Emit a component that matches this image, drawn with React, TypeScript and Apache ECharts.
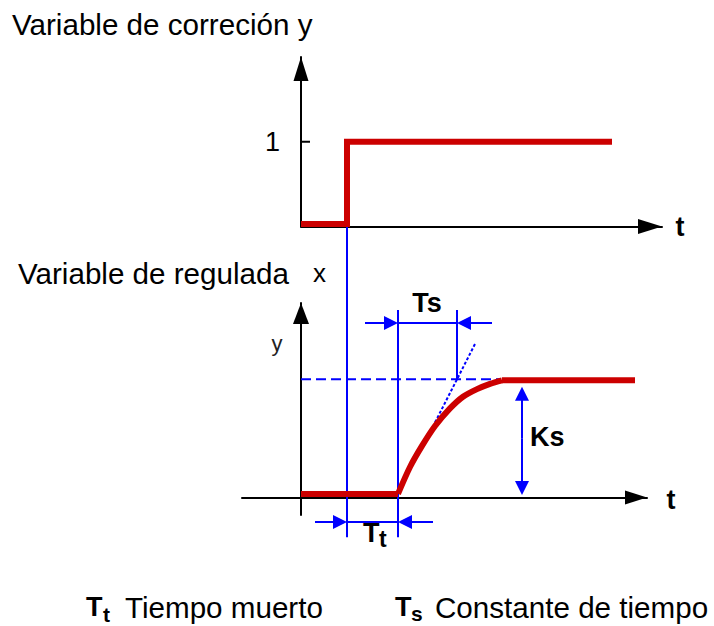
import React, { useEffect, useRef } from 'react';
import * as echarts from 'echarts';

// ---- data (time in units of 0.1 s, amplitude normalised) ----
const stepTime = 4.6;
const deadTimeEnd = 9.7;
const timeConstantEnd = 15.6;
const ksArrowX = 22.1;

const inputStep: number[][] = [[0, 0.03], [4.6, 0.03], [4.6, 1], [31.1, 1]];
const unitTick: number[][] = [[-0.4, 1], [0.9, 1]];

const responseBaseline: number[][] = [[0, 0.03], [9.7, 0.03]];
const responseRise: number[][] = [
  [9.7, 0.03], [10.9, 0.26], [12.1, 0.44], [13.4, 0.61], [14.9, 0.76],
  [16.2, 0.86], [17.6, 0.925], [18.9, 0.97], [20.1, 1.0],
];
const responseFlat: number[][] = [[20.1, 1.0], [33.4, 1.0]];
const tangentLine: number[][] = [[13.4, 0.64], [17.4, 1.31]];
const ksLevelLine: number[][] = [[0, 1.01], [20, 1.01]];

const stepGuide: number[][] = [[stepTime, -0.34], [stepTime, 2.31]];
const deadGuide: number[][] = [[deadTimeEnd, -0.34], [deadTimeEnd, 1.6]];
const tsGuide: number[][] = [[timeConstantEnd, 1.01], [timeConstantEnd, 1.6]];

const tsDimY = 1.49;
const tsDimFrom = [6.4, 19.1];
const ttDimY = -0.21;
const ttDimFrom = [1.4, 13.2];
const ksTips = [0.945, 0.02];
const ksMid = 0.5;

// ---- scales ----
const SX = 10; // px per x unit
const SY1 = 117.13; // px per y unit (bottom grid)
const ARROW = 14;
const BLUE = '#0000ff';
const RED = '#cc0000';
const FONT = "'Liberation Sans', Arial, sans-serif";

function arrowEnd(from: number[], tip: number[], sx: number, sy: number, size: number) {
  const dx = (tip[0] - from[0]) * sx;
  const dy = (tip[1] - from[1]) * sy;
  const len = Math.hypot(dx, dy);
  const k = size / 2 / len;
  return [tip[0] - (tip[0] - from[0]) * k, tip[1] - (tip[1] - from[1]) * k];
}

function seg(from: number[], tip: number[]) {
  return { coords: [from, arrowEnd(from, tip, SX, SY1, ARROW)] };
}

const lineBase = (xi: number, data: number[][], color: string, width: number, extra: any = {}) => ({
  type: 'line',
  xAxisIndex: xi,
  yAxisIndex: xi,
  data,
  symbol: 'none',
  showSymbol: false,
  clip: false,
  silent: true,
  lineStyle: { color, width, cap: 'butt', join: 'miter', ...extra },
  z: 3,
});

function txt(text: string, x: number, y: number, size: number, bold = false, align = 'left', color = '#000') {
  return {
    type: 'text',
    x,
    y,
    silent: true,
    style: {
      text,
      fill: color,
      fontSize: size,
      fontFamily: FONT,
      fontWeight: bold ? 'bold' : 'normal',
      align,
      verticalAlign: 'middle',
      textAlign: align,
      textVerticalAlign: 'middle',
    },
  };
}

const axisArrow = (w: number, h: number) => ({
  show: true,
  onZero: true,
  symbol: ['none', 'triangle'],
  symbolSize: [w, h],
  symbolOffset: [0, -h / 2],
  lineStyle: { color: '#000', width: 2 },
});

const option: any = {
  animation: false,
  backgroundColor: '#ffffff',
  grid: [
    { left: 301, top: 57, width: 361, height: 169.5 },
    { left: 242, top: 303, width: 405, height: 212 },
  ],
  xAxis: [
    {
      type: 'value', gridIndex: 0, min: 0, max: 36.1,
      axisLine: axisArrow(15, 24), axisTick: { show: false }, axisLabel: { show: false }, splitLine: { show: false },
    },
    {
      type: 'value', gridIndex: 1, min: -5.9, max: 34.6,
      axisLine: axisArrow(14, 22), axisTick: { show: false }, axisLabel: { show: false }, splitLine: { show: false },
    },
  ],
  yAxis: [
    {
      type: 'value', gridIndex: 0, min: 0, max: 2, interval: 1,
      axisLine: axisArrow(15, 24), axisTick: { show: false },
      axisLabel: {
        show: true, margin: 21, fontSize: 27, color: '#000', fontFamily: FONT,
        formatter: (v: number) => (v === 1 ? '1' : ''),
      },
      splitLine: { show: false },
    },
    {
      type: 'value', gridIndex: 1, min: -0.15, max: 1.66,
      axisLine: axisArrow(16, 21), axisTick: { show: false }, axisLabel: { show: false }, splitLine: { show: false },
    },
  ],
  series: [
    // guides (blue)
    lineBase(1, stepGuide, BLUE, 2),
    lineBase(1, deadGuide, BLUE, 2),
    lineBase(1, tsGuide, BLUE, 2),
    lineBase(1, ksLevelLine, BLUE, 2, { type: [10, 5] }),
    lineBase(1, tangentLine, BLUE, 2, { type: [3, 2] }),
    lineBase(1, [[deadTimeEnd, tsDimY], [timeConstantEnd, tsDimY]], BLUE, 2),
    lineBase(1, [[stepTime, ttDimY], [deadTimeEnd, ttDimY]], BLUE, 2),
    lineBase(0, unitTick, '#000', 2),
    {
      type: 'lines',
      coordinateSystem: 'cartesian2d',
      xAxisIndex: 1,
      yAxisIndex: 1,
      clip: false,
      silent: true,
      symbol: ['none', 'triangle'],
      symbolSize: ARROW,
      lineStyle: { color: BLUE, width: 2, opacity: 1, curveness: 0 },
      itemStyle: { color: BLUE },
      z: 3,
      data: [
        seg([tsDimFrom[0], tsDimY], [deadTimeEnd, tsDimY]),
        seg([tsDimFrom[1], tsDimY], [timeConstantEnd, tsDimY]),
        seg([ttDimFrom[0], ttDimY], [stepTime, ttDimY]),
        seg([ttDimFrom[1], ttDimY], [deadTimeEnd, ttDimY]),
        seg([ksArrowX, ksMid], [ksArrowX, ksTips[0]]),
        seg([ksArrowX, ksMid], [ksArrowX, ksTips[1]]),
      ],
    },
    // red signals
    { ...lineBase(0, inputStep, RED, 6), z: 5 },
    { ...lineBase(1, responseBaseline, RED, 6), z: 5 },
    { ...lineBase(1, responseRise, RED, 6, { join: 'round' }), smooth: 0.3, z: 5 },
    { ...lineBase(1, responseFlat, RED, 6), z: 5 },
  ],
  graphic: [
    txt('Variable de correción y', 12, 24, 29.6),
    txt('Variable de regulada', 18, 273, 29.6),
    txt('x', 313, 273, 26),
    txt('y', 277, 343, 22, false, 'center', '#222'),
    txt('t', 680, 227, 27, true, 'center'),
    txt('t', 671, 500, 27, true, 'center'),
    txt('Ts', 427, 303, 27, true, 'center'),
    txt('T', 363, 533, 27, true),
    txt('t', 379, 539, 23, true),
    txt('Ks', 530, 437, 27, true),
    txt('T', 86, 607, 27, true),
    txt('t', 103, 614, 21, true),
    txt('Tiempo muerto', 125, 607.7, 29.6),
    txt('T', 395, 607, 27, true),
    txt('s', 411, 613, 21, true),
    txt('Constante de tiempo', 435, 607.7, 29.6),
  ],
};

export default function App() {
  const ref = useRef<HTMLDivElement>(null);
  useEffect(() => {
    const chart = echarts.init(ref.current as HTMLDivElement, null, { renderer: 'svg' });
    chart.setOption(option);
    return () => chart.dispose();
  }, []);
  return (
    <div
      ref={ref}
      style={{ position: 'fixed', left: 0, top: 0, width: 714, height: 626, background: '#fff' }}
    />
  );
}
